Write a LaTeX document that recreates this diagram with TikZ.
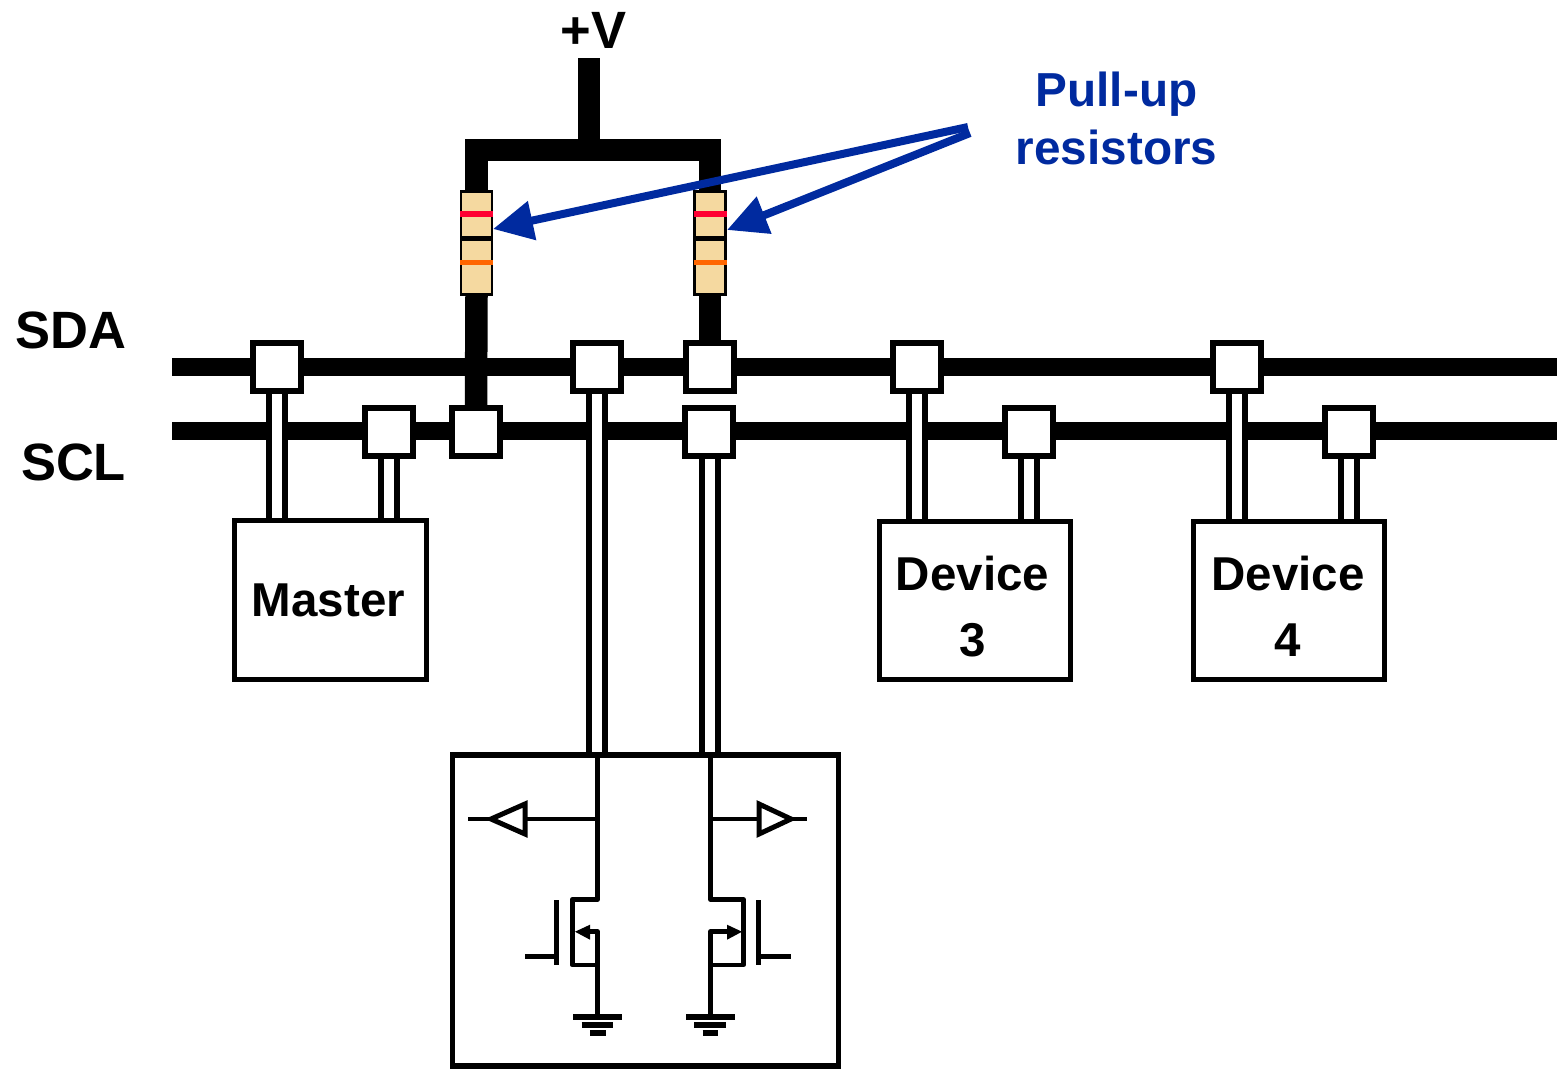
\documentclass[tikz,border=0pt]{standalone}
\usepackage{fontspec}
\setmainfont{Liberation Sans}
\usetikzlibrary{arrows.meta,backgrounds}
\definecolor{pullblue}{HTML}{002A9F}
\definecolor{resistorbody}{HTML}{F5D9A0}
\definecolor{bandred}{HTML}{FF0033}
\definecolor{bandorange}{HTML}{FF6600}
\tikzset{
  busline/.style={draw=black, line width=18pt},
  railline/.style={draw=black, line width=22.5pt},
  stemline/.style={draw=black, line width=6pt, double=white, double distance=10pt},
  tapbox/.style={draw=black, fill=white, line width=6pt, minimum size=48pt, inner sep=0pt},
  devbox/.style={draw=black, fill=white, line width=5.5pt, inner sep=0pt},
  boxlabel/.style={align=center, inner sep=0pt, font=\boxfont},
  resistorbox/.style={draw=black, fill=resistorbody, line width=2.5pt, minimum width=31pt, minimum height=103pt, inner sep=0pt},
  bandline/.style={line width=5.5pt},
  pullarrow/.style={draw=pullblue, line width=8pt, -{Triangle[length=40pt,width=38pt]}},
  wireline/.style={draw=black, line width=4.5pt, line join=round},
  bufferline/.style={draw=black, fill=white, line width=5pt, line join=miter},
  gateline/.style={draw=black, line width=5.5pt},
  busname/.style={font=\namefont, inner sep=0pt},
}
\newcommand{\boxfont}{\fontsize{47.5}{66}\selectfont\bfseries}
\newcommand{\namefont}{\fontsize{52.5}{60}\selectfont\bfseries}
\begin{document}
\begin{tikzpicture}[x=1pt,y=-1pt]
\useasboundingbox (0,0) rectangle (1557,1068);
% bus ends
\coordinate (sdastart) at (172,367);
\coordinate (sdaend) at (1557,367);
\coordinate (sclstart) at (172,431);
\coordinate (sclend) at (1557,431);
\coordinate (vsource) at (589,58);
\coordinate (vtop) at (589,150);
% boxes
\node[devbox, minimum width=192pt, minimum height=159pt] (master) at (330.5,600) {};
\node[devbox, minimum width=191pt, minimum height=158pt] (devthree) at (975,600.5) {};
\node[devbox, minimum width=191pt, minimum height=158pt] (devfour) at (1289,600.5) {};
\node[devbox, minimum width=386pt, minimum height=311pt] (chip) at (645.5,910.5) {};
\node[boxlabel] (masterlabel) at (328.5,600) {Master};
\node[boxlabel] (devthreelabel) at (972.5,606.5) {Device\\3};
\node[boxlabel] (devfourlabel) at (1288,606.5) {Device\\4};
% tap squares
\node[tapbox] (sdaa) at (277,367) {};
\node[tapbox] (sdab) at (597,367) {};
\node[tapbox] (sdac) at (710,367) {};
\node[tapbox] (sdad) at (917,367) {};
\node[tapbox] (sdae) at (1237,367) {};
\node[tapbox] (scla) at (389,431.5) {};
\node[tapbox] (sclb) at (476,432) {};
\node[tapbox] (sclc) at (709,431.5) {};
\node[tapbox] (scld) at (1029,431.5) {};
\node[tapbox] (scle) at (1349,431.5) {};
% resistors
\foreach \x/\name in {476.5/rleft,710/rright}
{
  \node[resistorbox] (\name) at (\x,243) {};
  \draw[bandline, bandred] (\x-16.5,214) -- (\x+16.5,214);
  \draw[bandline, black] (\x-16.5,238.5) -- (\x+16.5,238.5);
  \draw[bandline, bandorange] (\x-16.5,262.5) -- (\x+16.5,262.5);
}
% rails, buses and stems go under the boxes
\begin{scope}[on background layer]
\draw[railline] (vsource) -- (vtop);
\draw[railline] (rleft.north) |- (vtop) -| (rright.north);
\draw[railline] (rleft.south) -- (sclb.north);
\draw[railline] (rright.south) -- (sdac.north);
\draw[busline] (sdastart) -- (sdaend);
\draw[busline] (sclstart) -- (sclend);
\draw[stemline] (sdaa.south) -- (sdaa.south |- master.north);
\draw[stemline] (scla.south) -- (scla.south |- master.north);
\draw[stemline] (sdab.south) -- (sdab.south |- chip.north);
\draw[stemline] (sdac |- sclc.south) -- (sdac |- chip.north);
\draw[stemline] (sdad.south) -- (sdad.south |- devthree.north);
\draw[stemline] (scld.south) -- (scld.south |- devthree.north);
\draw[stemline] (sdae.south) -- (sdae.south |- devfour.north);
\draw[stemline] (scle.south) -- (scle.south |- devfour.north);
\end{scope}
% labels
\node[busname] (vlabel) at (593.5,30) {+V};
\node[busname] (sdalabel) at (70.5,330.5) {SDA};
\node[busname] (scllabel) at (73.5,462.5) {SCL};
\node[font=\fontsize{47.7}{58}\selectfont\bfseries, text=pullblue, align=center, inner sep=0pt] (pulllabel) at (1116.5,118) {Pull-up\\resistors};
% arrows
\coordinate (tipleft) at (493,229);
\coordinate (tipright) at (727,230);
\coordinate (tailleft) at (968,127);
\coordinate (tailright) at (970,133);
\draw[pullarrow] (tailleft) -- (tipleft);
\draw[pullarrow] (tailright) -- (tipright);
% left side of the chip
\draw[wireline] (597.7,755) -- (597.7,899.3) -- (572.3,899.3) -- (572.3,965) -- (597.7,965) -- (597.7,931.7) -- (585,931.7);
\draw[wireline] (597.7,819) -- (525,819);
\draw[wireline] (491,819) -- (468,819);
\draw[bufferline] (525,804) -- (525,834) -- (491,819) -- cycle;
\fill[black] (575,931.7) -- (590,924.7) -- (590,939.7) -- cycle;
\draw[gateline] (556.7,900) -- (556.7,965);
\draw[gateline] (556.7,956.7) -- (525,956.7);
\draw[wireline] (597.7,965) -- (597.7,1017);
\draw[gateline] (573,1017) -- (622,1017);
\draw[gateline] (581.7,1025) -- (613,1025);
\draw[gateline] (590,1033) -- (605.7,1033);
% right side of the chip
\draw[wireline] (710.3,755) -- (710.3,899.3) -- (743.3,899.3) -- (743.3,965) -- (710.3,965) -- (710.3,931.7) -- (730,931.7);
\draw[wireline] (710.3,819) -- (759,819);
\draw[wireline] (791,819) -- (807,819);
\draw[bufferline] (759,804) -- (759,834) -- (791,819) -- cycle;
\fill[black] (742,931.7) -- (727,924.7) -- (727,939.7) -- cycle;
\draw[gateline] (758.7,900) -- (758.7,965);
\draw[gateline] (758.7,956.7) -- (791,956.7);
\draw[wireline] (710.3,965) -- (710.3,1017);
\draw[gateline] (686,1017) -- (734.5,1017);
\draw[gateline] (694,1025) -- (726,1025);
\draw[gateline] (702.5,1033) -- (718,1033);
\end{tikzpicture}
\end{document}
